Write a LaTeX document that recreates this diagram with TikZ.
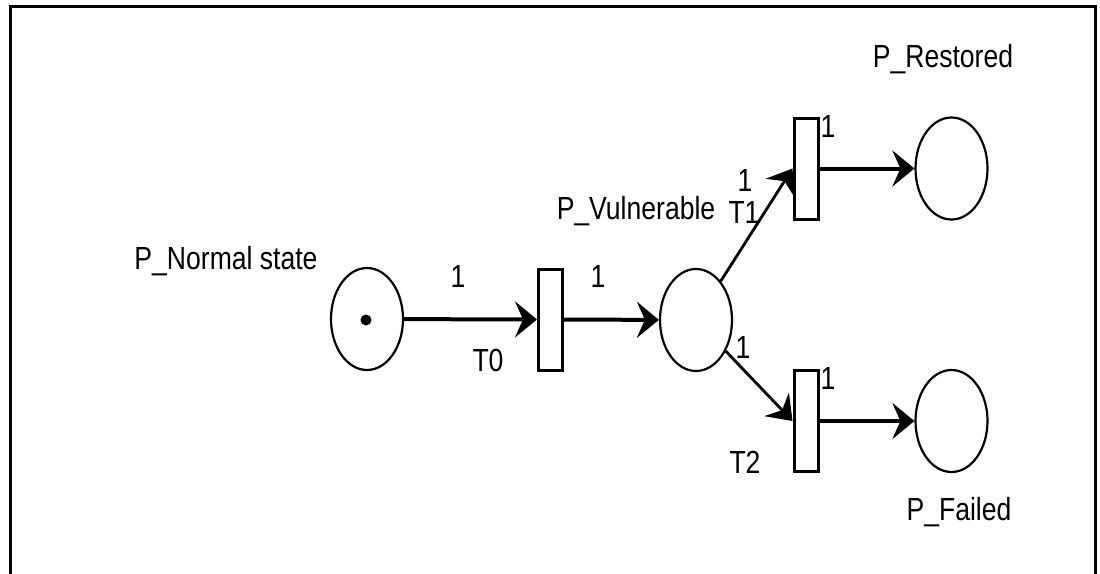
\documentclass[tikz,border=0pt]{standalone}
\usepackage{fontspec}
\setmainfont{Liberation Sans}
\usetikzlibrary{shapes.geometric,arrows.meta}
\newcommand\ntxt[1]{\scalebox{0.83}[1]{#1}}
\tikzset{
  place/.style={draw, ellipse, line width=2.2pt, minimum width=72pt, minimum height=102pt, inner sep=0pt},
  trans/.style={draw, rectangle, line width=3pt, minimum width=24pt, minimum height=101pt, inner sep=0pt},
  arc/.style={line width=4pt, -{Stealth[length=22pt,width=36pt,inset=8pt]}},
  darc/.style={line width=2.8pt, -{Stealth[length=23pt,width=34pt,inset=8pt]}},
  lbl/.style={inner sep=0pt, font=\fontsize{32}{32}\selectfont},
  frame/.style={line width=3pt}
}
\begin{document}
\begin{tikzpicture}[x=1pt,y=-1pt]
\useasboundingbox (0,0) rectangle (1100,573);
\draw[frame] (10,580) -- (10,6) -- (1095,6) -- (1095,580);

\node[place] (pn) at (367,319) {};
\fill (366,320) circle (5.5pt);
\node[trans] (t0) at (550.5,319.5) {};
\node[place] (pv) at (696,320) {};
\node[trans] (t1) at (806,168.5) {};
\node[place] (pr) at (951.5,168.5) {};
\node[trans] (t2) at (806,421) {};
\node[place] (pf) at (951.5,421) {};

\draw[arc] (pn) -- (t0.west);
\draw[arc] (t0) -- (pv);
\draw[darc] (pv) -- (t1.west);
\draw[darc] (pv) -- (t2.west);
\draw[arc] (t1) -- (pr);
\draw[arc] (t2) -- (pf);

\node[lbl] (lpn) at (226,261) {\ntxt{P\_Normal state}};
\node[lbl] (lpv) at (636,211) {\ntxt{P\_Vulnerable}};
\node[lbl] (lpr) at (943,59) {\ntxt{P\_Restored}};
\node[lbl] (lpf) at (959,512) {\ntxt{P\_Failed}};
\node[lbl] (lt0) at (488,360) {\ntxt{T0}};
\node[lbl] (lt1) at (744,212) {\ntxt{T1}};
\node[lbl] (lt2) at (745,462) {\ntxt{T2}};
\node[lbl] (w1) at (458,276) {\ntxt{1}};
\node[lbl] (w2) at (598,276) {\ntxt{1}};
\node[lbl] (w3) at (745,180) {\ntxt{1}};
\node[lbl] (w4) at (828,126) {\ntxt{1}};
\node[lbl] (w5) at (743,347) {\ntxt{1}};
\node[lbl] (w6) at (828,378) {\ntxt{1}};
\end{tikzpicture}
\end{document}
